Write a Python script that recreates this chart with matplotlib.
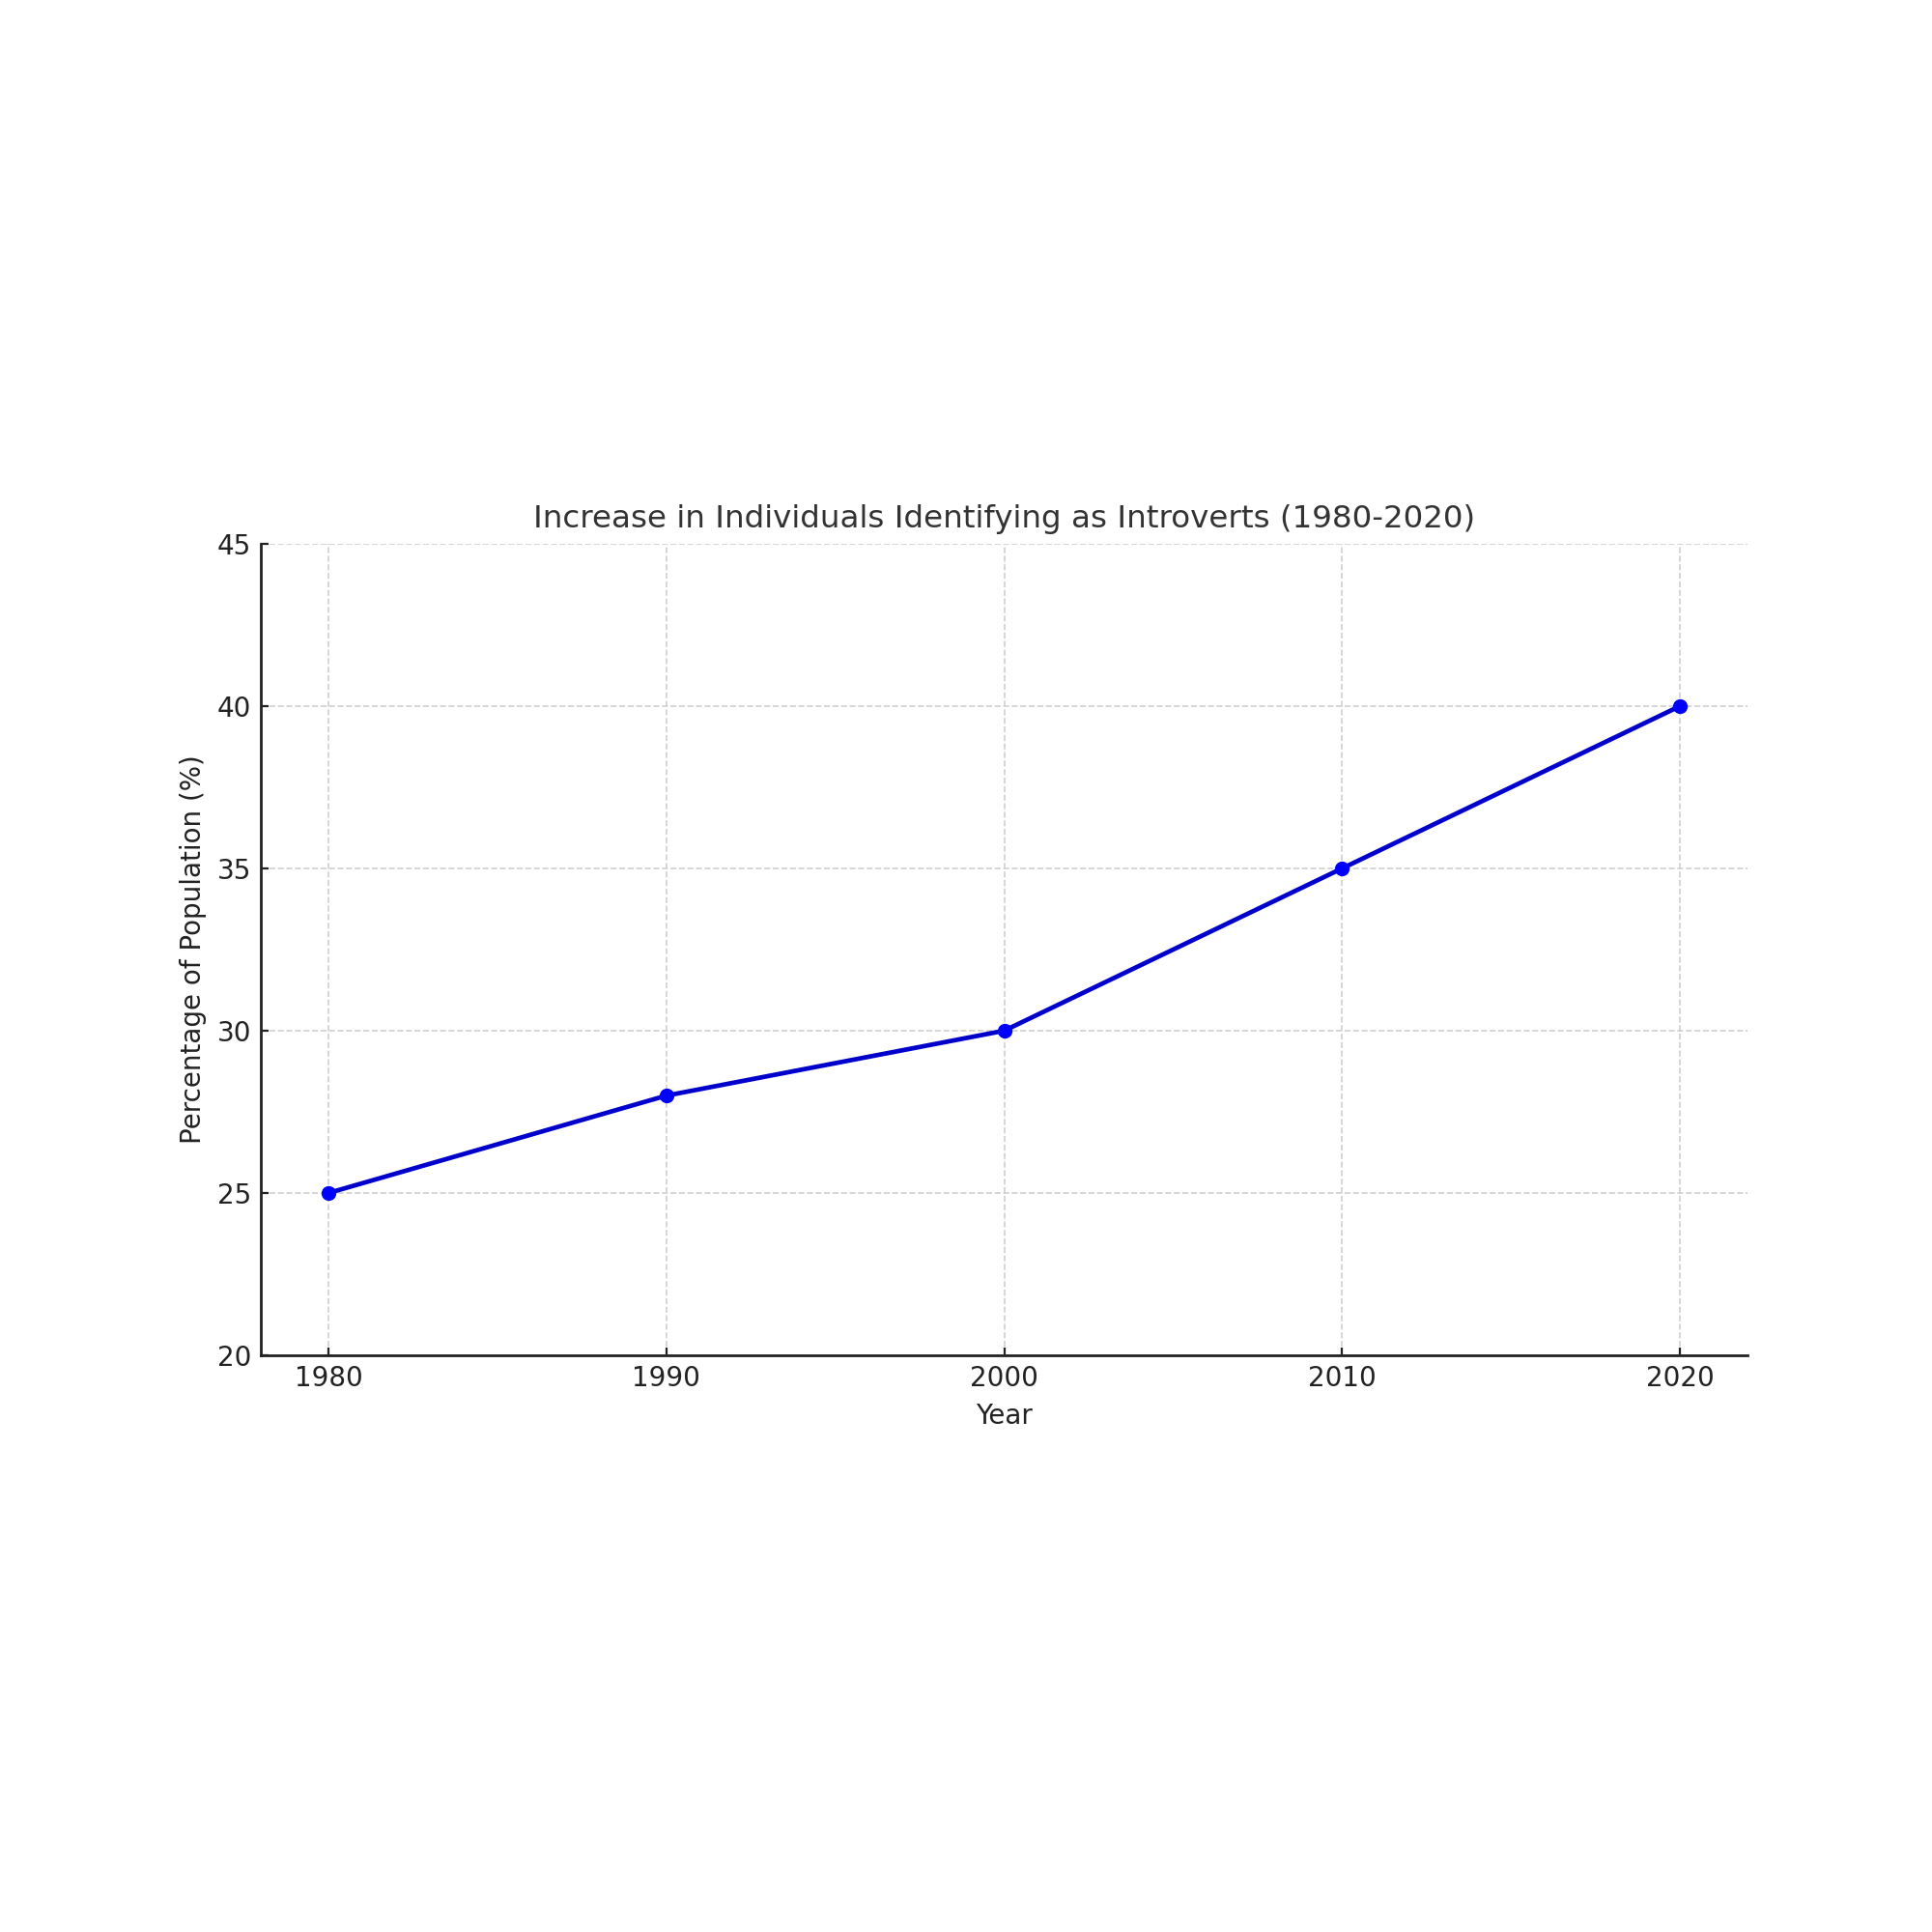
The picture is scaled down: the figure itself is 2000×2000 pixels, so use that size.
import matplotlib
matplotlib.use("Agg")
import matplotlib.pyplot as plt

# data
years = [1980, 1990, 2000, 2010, 2020]
pct = [25, 28, 30, 35, 40]

fig = plt.figure(figsize=(10, 10), dpi=200)
ax = fig.add_axes([0.135, 0.2985, 0.7695, 0.42])

ax.plot(years, pct, color='mediumblue', linewidth=1.7,
        marker='o', markersize=4.5, markerfacecolor='blue', markeredgecolor='blue')

ax.set_xlim(1978, 2022)
ax.set_ylim(20, 45)
ax.set_xticks(years)
ax.set_yticks([20, 25, 30, 35, 40, 45])

ax.grid(True, linestyle='--', linewidth=0.6, color='#d0d0d0')
ax.set_axisbelow(True)

for s in ['top', 'right']:
    ax.spines[s].set_visible(False)
for s in ['left', 'bottom']:
    ax.spines[s].set_color('#222222')
    ax.spines[s].set_linewidth(1.0)

# ticks point inward
ax.tick_params(labelsize=10, colors='#222222', length=3, direction='in')
ax.set_title('Increase in Individuals Identifying as Introverts (1980-2020)',
             fontsize=11.7, color='#333333', pad=6)
ax.set_xlabel('Year', fontsize=10, color='#222222')
ax.set_ylabel('Percentage of Population (%)', fontsize=10, color='#222222')

fig.savefig('out.png', dpi=200)
